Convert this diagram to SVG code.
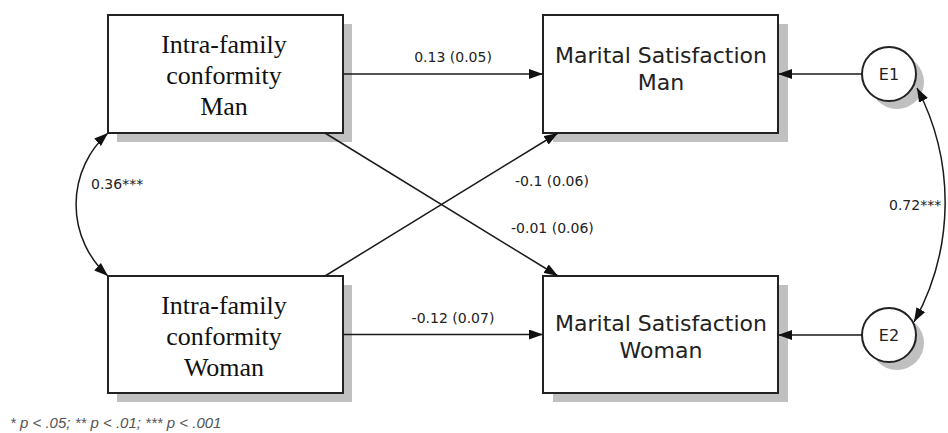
<svg xmlns="http://www.w3.org/2000/svg" width="948" height="433" viewBox="0 0 948 433">
<defs>
<style>
.shadow{fill:#c0c0c0;stroke:none}
.box{fill:#fff;stroke:#222;stroke-width:2}
.serif{font-family:"Liberation Serif","Times New Roman",serif;font-size:26px;fill:#111;text-anchor:middle}
.sans{font-family:"DejaVu Sans",sans-serif;font-size:22px;fill:#222;text-anchor:middle}
.lbl{font-family:"DejaVu Sans",sans-serif;font-size:14px;fill:#222}
.elbl{font-family:"DejaVu Sans",sans-serif;font-size:16px;fill:#222;text-anchor:middle}
.edge{fill:none;stroke:#1a1a1a;stroke-width:1.5}
.note{font-family:"Liberation Sans",Arial,sans-serif;font-size:15px;font-style:italic;fill:#555}
</style>
<marker id="arr" viewBox="0 0 14 10" refX="14" refY="5" markerWidth="14" markerHeight="10" markerUnits="userSpaceOnUse" orient="auto-start-reverse">
<path d="M0,0 L14,5 L0,10 Z" fill="#111"/>
</marker>
</defs>
<rect width="948" height="433" fill="#fff"/>

<g id="ifc-man">
<rect class="shadow" x="117" y="24" width="235" height="118"/>
<rect class="box" x="108" y="15" width="235" height="118"/>
<text class="serif" x="224" y="53">Intra-family</text>
<text class="serif" x="224" y="84">conformity</text>
<text class="serif" x="224" y="115">Man</text>
</g>

<g id="ifc-woman">
<rect class="shadow" x="117" y="285" width="235" height="117"/>
<rect class="box" x="108" y="276" width="235" height="117"/>
<text class="serif" x="224" y="314">Intra-family</text>
<text class="serif" x="224" y="345">conformity</text>
<text class="serif" x="224" y="376">Woman</text>
</g>

<g id="ms-man">
<rect class="shadow" x="553" y="24" width="235" height="118"/>
<rect class="box" x="543" y="15" width="235" height="118"/>
<text class="sans" x="661" y="63">Marital Satisfaction</text>
<text class="sans" x="661" y="90">Man</text>
</g>

<g id="ms-woman">
<rect class="shadow" x="553" y="285" width="235" height="117"/>
<rect class="box" x="543" y="276" width="235" height="117"/>
<text class="sans" x="661" y="331">Marital Satisfaction</text>
<text class="sans" x="661" y="358">Woman</text>
</g>

<g id="e1">
<circle class="shadow" cx="897" cy="82" r="27"/>
<circle class="box" cx="889" cy="74" r="27" stroke-width="1.5"/>
<text class="elbl" x="889" y="80">E1</text>
</g>

<g id="e2">
<circle class="shadow" cx="897" cy="343" r="27"/>
<circle class="box" cx="889" cy="335" r="27" stroke-width="1.5"/>
<text class="elbl" x="889" y="341">E2</text>
</g>

<g id="connectors">
<line class="edge" x1="343" y1="74" x2="543" y2="74" marker-end="url(#arr)"/>
<line class="edge" x1="343" y1="334.5" x2="543" y2="334.5" marker-end="url(#arr)"/>
<line class="edge" x1="325" y1="133" x2="558" y2="276" marker-end="url(#arr)"/>
<line class="edge" x1="325" y1="276" x2="558" y2="133" marker-end="url(#arr)"/>
<line class="edge" x1="862" y1="74" x2="778" y2="74" marker-end="url(#arr)"/>
<line class="edge" x1="862" y1="335" x2="778" y2="335" marker-end="url(#arr)"/>
<path class="edge" d="M108,133 A96,96 0 0 0 108,276" marker-start="url(#arr)" marker-end="url(#arr)"/>
<path class="edge" d="M917,88 A246,246 0 0 1 914,322" marker-start="url(#arr)" marker-end="url(#arr)"/>
<text class="lbl" x="453" y="62" text-anchor="middle">0.13 (0.05)</text>
<text class="lbl" x="453" y="323" text-anchor="middle">-0.12 (0.07)</text>
<text class="lbl" x="515" y="186">-0.1 (0.06)</text>
<text class="lbl" x="511" y="233">-0.01 (0.06)</text>
<text class="lbl" x="91" y="189">0.36***</text>
<text class="lbl" x="889" y="210">0.72***</text>
</g>

<text class="note" x="10" y="428">* p &lt; .05; ** p &lt; .01; *** p &lt; .001</text>
</svg>
